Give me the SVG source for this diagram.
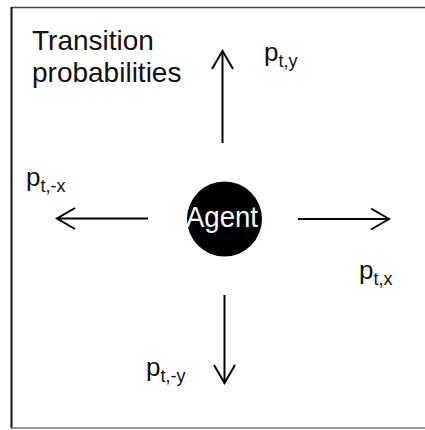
<svg xmlns="http://www.w3.org/2000/svg" width="425" height="430" viewBox="0 0 425 430">
<defs>
<style>
.lbl{font-family:"Liberation Sans",Arial,sans-serif;fill:#111;}
.big{font-size:28px;}
.p{font-size:26px;}
.sub{font-size:18px;}
.conn{stroke:#000;stroke-width:2;fill:none;}
</style>
<marker id="head" markerUnits="userSpaceOnUse" markerWidth="26" markerHeight="28" viewBox="-22 -14 26 28" refX="0" refY="0" orient="auto" overflow="visible">
<path d="M-18,-10.5 L0,0 L-18,10.5" fill="none" stroke="#000" stroke-width="2"/>
</marker>
</defs>
<rect width="425" height="430" fill="#fff"/>
<g id="frame">
<line x1="11" y1="7.5" x2="425" y2="7.5" stroke="#444" stroke-width="1.5"/>
<line x1="11.5" y1="7" x2="11.5" y2="428.5" stroke="#111" stroke-width="2"/>
<line x1="11" y1="428" x2="425" y2="428" stroke="#777" stroke-width="1.5"/>
</g>
<g id="title">
<text class="lbl big" x="32" y="50">Transition</text>
<text class="lbl big" x="32" y="82">probabilities</text>
</g>
<g id="connectors">
<line class="conn" x1="222.5" y1="143" x2="222.5" y2="51" marker-end="url(#head)"/>
<line class="conn" x1="148" y1="218.5" x2="57" y2="218.5" marker-end="url(#head)"/>
<line class="conn" x1="298" y1="219" x2="389" y2="219" marker-end="url(#head)"/>
<line class="conn" x1="224.5" y1="295" x2="224.5" y2="383" marker-end="url(#head)"/>
</g>
<g id="agent">
<circle cx="224.5" cy="219" r="37.5" fill="#000"/>
<text x="222" y="227" font-family="Liberation Sans, Arial, sans-serif" font-size="29" fill="#fff" text-anchor="middle" textLength="72" lengthAdjust="spacingAndGlyphs">Agent</text>
</g>
<g id="label-py">
<text class="lbl p" x="264" y="61">p<tspan class="sub" dy="6">t,y</tspan></text>
</g>
<g id="label-pmx">
<text class="lbl p" x="26" y="186">p<tspan class="sub" dy="6">t,-x</tspan></text>
</g>
<g id="label-px">
<text class="lbl p" x="359" y="279">p<tspan class="sub" dy="6">t,x</tspan></text>
</g>
<g id="label-pmy">
<text class="lbl p" x="146" y="376">p<tspan class="sub" dy="6">t,-y</tspan></text>
</g>
</svg>
